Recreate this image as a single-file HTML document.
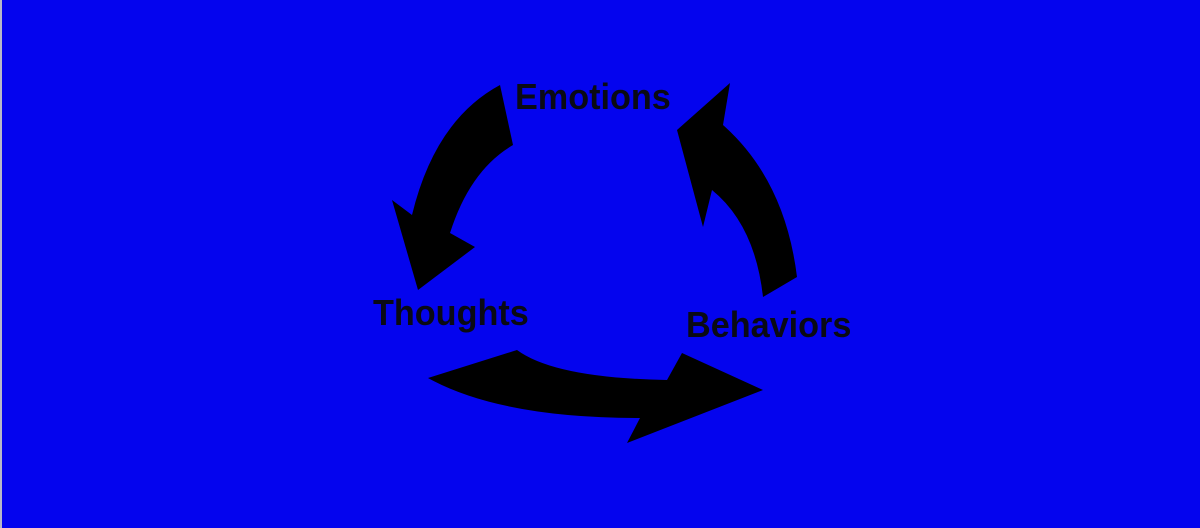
<!DOCTYPE html>
<html><head><meta charset="utf-8"><style>
html,body{margin:0;padding:0;}
body{width:1200px;height:528px;background:#0404ee;position:relative;overflow:hidden;}
.edge{position:absolute;left:0;top:0;width:2px;height:528px;background:#b8b8c8;}
.t{position:absolute;font-family:"Liberation Sans Narrow","Liberation Sans",sans-serif;font-weight:bold;font-size:36px;color:#0a0a14;white-space:nowrap;transform:scaleX(0.95);transform-origin:left top;}
</style></head><body>
<div class="edge"></div>
<svg width="1200" height="528" style="position:absolute;left:0;top:0">
<g fill="#000">
<path d="M500,85 L513,145 Q470,170 450,233 L475,247 L418,290 L392,200 L412,215 Q435,120 500,85 Z"/>
<path d="M730,83 L723,125 Q785,180 797,277 L763,297 Q755,225 712,190 L703,227 L677,130 Z"/>
<path d="M428,378 L517,350 Q555,378 667,380 L682,353 L763,390 L627,443 L640,418 Q500,418 428,378 Z"/>
</g>
</svg>
<div class="t" style="left:515px;top:76px;">Emotions</div>
<div class="t" style="left:373px;top:292px;">Thoughts</div>
<div class="t" style="left:686px;top:304px;">Behaviors</div>
</body></html>
